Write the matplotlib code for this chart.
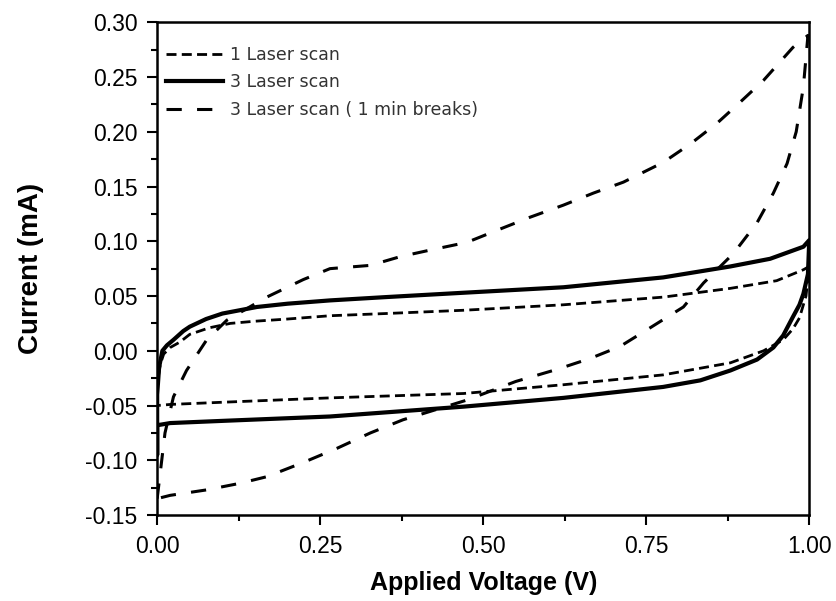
# Voltamogramas: 1 barrido laser vs 3 barridos (continuo y con pausas)

import matplotlib
matplotlib.use('Agg')
import matplotlib.pyplot as plt

plt.rcParams['font.family'] = ['Liberation Sans', 'DejaVu Sans']

# 1 Laser scan (ida y vuelta)
v1 = [0.0, 0.0, 0.005, 0.01, 0.02, 0.035, 0.05, 0.08, 0.112, 0.15, 0.2, 0.265, 0.35, 0.47,
      0.623, 0.776, 0.879, 0.95, 0.991, 1.0,
      1.0, 0.995, 0.985, 0.975, 0.96, 0.93, 0.879, 0.776, 0.623, 0.47, 0.265, 0.1, 0.02, 0.0]
i1 = [-0.05, -0.03, -0.012, -0.003, 0.003, 0.008, 0.015, 0.021, 0.025, 0.027, 0.029, 0.032, 0.034, 0.037,
      0.042, 0.049, 0.057, 0.064, 0.074, 0.077,
      0.077, 0.05, 0.03, 0.02, 0.01, 0.0, -0.011, -0.022, -0.031, -0.039, -0.043, -0.047, -0.049, -0.05]

# 3 Laser scan
v3 = [0.0, 0.0, 0.0, 0.003, 0.008, 0.015, 0.025, 0.04, 0.05, 0.075, 0.1, 0.153, 0.2, 0.265, 0.35,
      0.47, 0.623, 0.776, 0.879, 0.94, 0.991, 1.0,
      1.0, 0.998, 0.991, 0.985, 0.975, 0.96, 0.945, 0.92, 0.879, 0.833, 0.776, 0.623, 0.47, 0.265,
      0.1, 0.02, 0.0]
i3 = [-0.068, -0.095, -0.04, -0.015, 0.0, 0.005, 0.010, 0.018, 0.022, 0.029, 0.034, 0.040, 0.043, 0.046, 0.049,
      0.053, 0.058, 0.067, 0.077, 0.084, 0.095, 0.101,
      0.101, 0.07, 0.052, 0.042, 0.031, 0.014, 0.003, -0.008, -0.018, -0.027, -0.033, -0.043, -0.051, -0.060,
      -0.064, -0.066, -0.068]

# 3 Laser scan (1 min breaks)
v3b = [0.0, 0.005, 0.012, 0.025, 0.045, 0.076, 0.107, 0.168, 0.224, 0.265, 0.327, 0.373, 0.419, 0.475,
       0.521, 0.572, 0.623, 0.669, 0.715, 0.776, 0.818, 0.859, 0.894, 0.93, 0.975, 0.998,
       0.991, 0.98, 0.966, 0.945, 0.92, 0.884, 0.838, 0.807, 0.756, 0.710, 0.664, 0.613, 0.55,
       0.475, 0.377, 0.327, 0.276, 0.224, 0.168, 0.127, 0.076, 0.02, 0.0]
i3b = [-0.135, -0.11, -0.075, -0.042, -0.018, 0.010, 0.028, 0.049, 0.065, 0.075, 0.078, 0.086, 0.092, 0.099,
       0.110, 0.122, 0.133, 0.144, 0.154, 0.172, 0.189, 0.208, 0.227, 0.247, 0.277, 0.288,
       0.241, 0.20, 0.171, 0.144, 0.117, 0.089, 0.062, 0.040, 0.021, 0.004, -0.007, -0.017, -0.028,
       -0.045, -0.063, -0.075, -0.089, -0.102, -0.115, -0.121, -0.127, -0.132, -0.135]

xticks = [0.00, 0.25, 0.50, 0.75, 1.00]
yticks = [-0.15, -0.10, -0.05, 0.00, 0.05, 0.10, 0.15, 0.20, 0.25, 0.30]

fig = plt.figure(figsize=(8.36, 6.01), dpi=100)
ax = fig.add_axes([0.188, 0.143, 0.780, 0.820])

ax.plot(v1, i1, color='black', lw=2.0, dashes=(3.6, 1.9), label='1 Laser scan')
ax.plot(v3, i3, color='black', lw=3.0, label='3 Laser scan')
ax.plot(v3b, i3b, color='black', lw=2.2, dashes=(5, 5), label='3 Laser scan ( 1 min breaks)')

ax.set_xlim(0, 1.0)
ax.set_ylim(-0.15, 0.30)
ax.set_xticks(xticks)
ax.set_yticks(yticks)
ax.set_xticklabels(['%.2f' % x for x in xticks])
ax.set_yticklabels(['%.2f' % y for y in yticks])
ax.set_xticks([0.125, 0.375, 0.625, 0.875], minor=True)
ax.set_yticks([-0.125 + 0.05 * k for k in range(9)], minor=True)

ax.tick_params(which='major', direction='out', length=7, width=1.5, labelsize=16.5, pad=7)
ax.tick_params(which='minor', direction='out', length=4, width=1.5)
ax.tick_params(top=False, right=False, which='both')
for s in ax.spines.values():
    s.set_linewidth(1.8)

ax.set_xlabel('Applied Voltage (V)', fontsize=18, fontweight='bold', labelpad=10)
ax.set_ylabel('Current (mA)', fontsize=20, fontweight='bold', labelpad=30)

leg = ax.legend(loc='upper left', bbox_to_anchor=(0.0, 0.97), frameon=False,
                prop={'family': 'DejaVu Sans', 'size': 12.5},
                handlelength=3.3, handletextpad=0.4, labelspacing=0.55, borderaxespad=0.1)
for t in leg.get_texts():
    t.set_color('#333333')

fig.savefig('out.png', dpi=100)
